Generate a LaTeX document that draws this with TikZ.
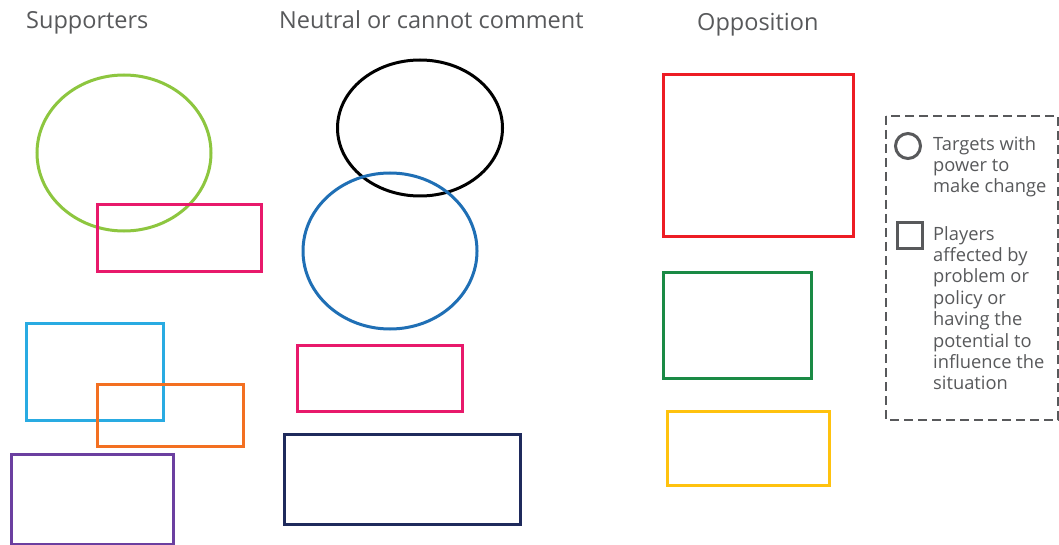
\documentclass[tikz,border=0pt]{standalone}
\usepackage{fontspec}
\setmainfont{Open Sans}
\definecolor{cgreen}{HTML}{8DC63F}
\definecolor{cpink}{HTML}{E8196B}
\definecolor{clblue}{HTML}{29ABE2}
\definecolor{corange}{HTML}{F37021}
\definecolor{cpurple}{HTML}{6B3FA0}
\definecolor{cblue}{HTML}{1F6FB5}
\definecolor{cnavy}{HTML}{1F2A5C}
\definecolor{cred}{HTML}{ED1C24}
\definecolor{cdgreen}{HTML}{1A8A45}
\definecolor{cyellow}{HTML}{FFC20E}
\definecolor{cgray}{HTML}{58595B}
\begin{document}
\begin{tikzpicture}[x=1pt,y=-1pt,
  shp/.style={line width=3pt},
  head/.style={text=cgray,font=\fontsize{23.5}{27}\selectfont,anchor=base west,inner sep=0pt},
  legtext/.style={text=cgray,font=\fontsize{18.3}{21.4}\selectfont,anchor=north west,inner sep=0pt,align=left}]
\useasboundingbox (0,0) rectangle (1059,545);
\fill[white] (0,0) rectangle (1059,545);
% headings
\node[head] (hs) at (26,29) {Supporters};
\node[head] (hn) at (279,29) {Neutral or cannot comment};
\node[head] (ho) at (697,31) {Opposition};
% supporters
\draw[shp,cgreen] (124,153) ellipse [x radius=87, y radius=78];
\draw[shp,cpink] (97,205) rectangle (261,271);
\draw[shp,clblue] (26,323) rectangle (163,420);
\draw[shp,corange] (97,384) rectangle (243,446);
\draw[shp,cpurple] (11,454) rectangle (173,544);
% neutral
\draw[shp,black] (420,128) ellipse [x radius=82.5, y radius=68];
\draw[shp,cblue] (390,251) ellipse [x radius=87, y radius=78];
\draw[shp,cpink] (297,345) rectangle (462,411);
\draw[shp,cnavy] (284,434) rectangle (520,524);
% opposition
\draw[shp,cred] (663,75) rectangle (853,237);
\draw[shp,cdgreen] (663,272) rectangle (811,378);
\draw[shp,cyellow] (667,411) rectangle (829,485);
% legend
\draw[cgray,line width=2.6pt,dash pattern=on 9pt off 5pt] (886,116) rectangle (1058,420);
\draw[cgray,line width=3pt] (908,146) circle [radius=12.5];
\draw[cgray,line width=3pt] (897,223) rectangle (922,248);
\node[legtext] (l1) at (933,136) {Targets with\\power to\\make change};
\node[legtext] (l2) at (933,226) {Players\\affected by\\problem or\\policy or\\having the\\potential to\\influence the\\situation};
\end{tikzpicture}
\end{document}
